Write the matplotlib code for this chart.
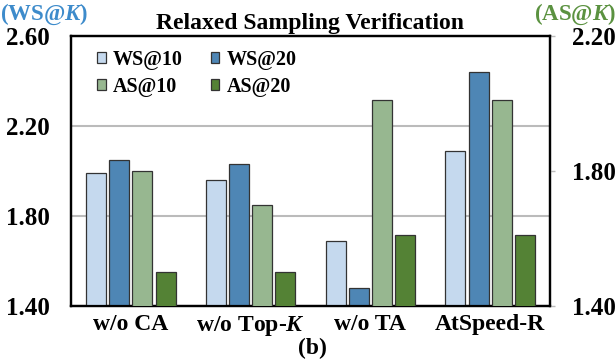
import matplotlib
matplotlib.use('Agg')
import matplotlib.pyplot as plt
import numpy as np

plt.rcParams['font.family'] = ['Liberation Serif', 'DejaVu Serif']
plt.rcParams['font.weight'] = 'bold'
plt.rcParams['mathtext.fontset'] = 'custom'
plt.rcParams['mathtext.it'] = 'Liberation Serif:bold:italic'
plt.rcParams['mathtext.rm'] = 'Liberation Serif:bold'

# data
groups = ['w/o CA', 'w/o Top-$\\mathit{K}$', 'w/o TA', 'AtSpeed-R']
ws10 = [1.99, 1.96, 1.69, 2.09]
ws20 = [2.05, 2.03, 1.48, 2.44]
as10 = [1.80, 1.70, 2.01, 2.01]
as20 = [1.50, 1.50, 1.61, 1.61]

c_ws10 = '#C5D9EE'
c_ws20 = '#4E86B5'
c_as10 = '#97B790'
c_as20 = '#548235'

fig = plt.figure(figsize=(6.16, 3.6), dpi=100)
ax = fig.add_axes([71 / 616, 1 - 306 / 360, (550 - 71) / 616, (306 - 36) / 360])
ax2 = ax.twinx()

x = np.arange(len(groups))
step = 0.193
w = 0.167
ec = '#333333'
b1 = ax.bar(x - 1.5 * step, ws10, w, color=c_ws10, edgecolor=ec, linewidth=0.9, label='WS@10', zorder=3)
b2 = ax.bar(x - 0.5 * step, ws20, w, color=c_ws20, edgecolor=ec, linewidth=0.9, label='WS@20', zorder=3)
b3 = ax2.bar(x + 0.5 * step, as10, w, color=c_as10, edgecolor=ec, linewidth=0.9, label='AS@10', zorder=3)
b4 = ax2.bar(x + 1.5 * step, as20, w, color=c_as20, edgecolor=ec, linewidth=0.9, label='AS@20', zorder=3)

ax.set_xlim(-0.5, 3.5)
ax.set_ylim(1.40, 2.60)
ax2.set_ylim(1.40, 2.20)
left_ticks = [1.40, 1.80, 2.20, 2.60]
right_ticks = [1.40, 1.80, 2.20]
ax.set_yticks(left_ticks)
ax.set_yticklabels(['%.2f' % v for v in left_ticks], fontsize=18, fontweight='bold')
ax2.set_yticks(right_ticks)
ax2.set_yticklabels(['%.2f' % v for v in right_ticks], fontsize=18, fontweight='bold')
ax.tick_params(axis='y', length=0, pad=15)
ax2.tick_params(axis='y', length=3.6, width=1, color='#BBBBBB', pad=12)
ax.set_xticks(x)
ax.set_xticklabels(groups, fontsize=17, fontweight='bold')
ax.tick_params(axis='x', length=0, pad=6)

ax.grid(axis='y', color='#BBBBBB', linewidth=1.5)
ax.set_axisbelow(True)
for a in (ax, ax2):
    for s in a.spines.values():
        s.set_linewidth(1.6)
        s.set_color('black')

ax.set_title('Relaxed Sampling Verification', fontsize=17, fontweight='bold', pad=5)

ax2.legend([b1, b3, b2, b4], ['WS@10', 'AS@10', 'WS@20', 'AS@20'], ncol=2,
           loc='upper left', bbox_to_anchor=(0.055, 0.95), frameon=False,
           fontsize=14.5, handlelength=0.42, handleheight=0.42, handletextpad=0.35,
           columnspacing=1.4, labelspacing=0.35, borderaxespad=0, borderpad=0)

fig.text(0.0, 1 - 2 / 360, '(WS@$\\mathit{K}$)', color='#3D8BCB', fontsize=16.5,
         fontweight='bold', ha='left', va='top')
fig.text(1.0, 1 - 2 / 360, '(AS@$\\mathit{K}$)', color='#5B9240', fontsize=16.5,
         fontweight='bold', ha='right', va='top')
fig.text(312 / 616, 1 - 359 / 360, '(b)', fontsize=17, fontweight='bold',
         ha='center', va='bottom')

fig.savefig('out.png', dpi=100)
